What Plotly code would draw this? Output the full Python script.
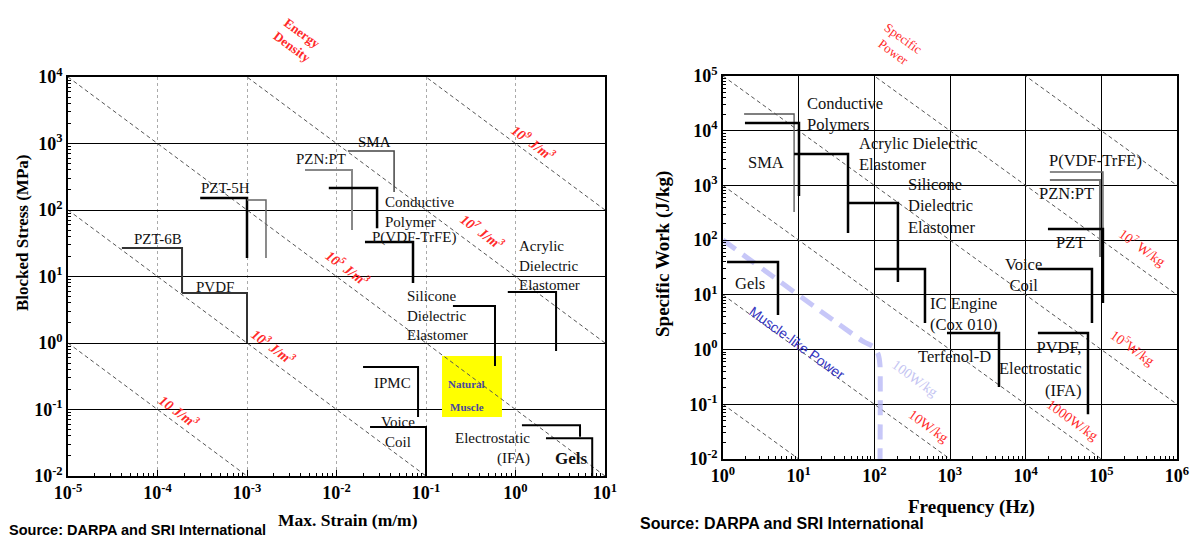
import numpy as np
import plotly.graph_objects as go

# ---------------- LEFT CHART: Max. Strain (m/m) vs Blocked Stress (MPa) ----------------
left_names = ["PZT-6B", "PVDF", "PZT-5H", "PZT-5H b", "PZN:PT", "SMA", "Conductive Polymer",
              "P(VDF-TrFE)", "Acrylic Dielectric Elastomer", "Silicone Dielectric Elastomer",
              "IPMC", "Voice Coil", "Electrostatic (IFA)", "Gels"]
left_strain_start = [4.0e-5, 1.88e-4, 3.0e-4, 1.0e-3, 4.45e-3, 0.0134, 8.2e-3,
                     0.0208, 0.82, 0.20, 0.0198, 0.0237, 1.18, 2.19]
left_strain_max = [1.88e-4, 1.0e-3, 1.0e-3, 1.63e-3, 0.0149, 0.044, 0.0284,
                   0.0716, 2.84, 0.59, 0.0815, 0.10, 5.26, 7.2]
left_stress_max = [26.8, 5.65, 151, 141, 400, 771, 214, 33, 5.85, 3.6, 0.435, 0.0546, 0.058, 0.037]
left_stress_min = [5.65, 1.0, 19, 19, 50, 186, 53, 8.0, 0.76, 0.45, 0.077, 0.01, 0.039, 0.0095]

natural_muscle_strain = [0.151, 0.706]
natural_muscle_stress = [0.077, 0.64]

# energy density lines (stress[MPa] * strain = const), labels in J/m^3
energy_density_products = [1e-5, 1e-3, 1e-1, 1e1, 1e3]

# ---------------- RIGHT CHART: Frequency (Hz) vs Specific Work (J/kg) ----------------
right_names = ["SMA", "Conductive Polymers", "Acrylic Dielectric Elastomer",
               "Silicone Dielectric Elastomer", "IC Engine (Cox 010)", "Terfenol-D",
               "Voice Coil", "PVDF, Electrostatic (IFA)", "P(VDF-TrFE)", "PZN:PT", "PZT", "Gels"]
right_freq_start = [1.9, 1.95, 8.7, 43.5, 102, 912, 14500, 14500, 20900, 20900, 19700, 1.13]
right_freq_max = [8.7, 10.1, 44.9, 205, 467, 4440, 75200, 66600, 105000, 96000, 105000, 5.33]
right_work_max = [20200, 13800, 3750, 476, 29.6, 2.0, 29.6, 2.0, 1760, 1255, 160, 39.8]
right_work_min = [327, 640, 135, 17.1, 3.05, 0.206, 3.05, 0.066, 7.1, 49, 7.1, 4.3]

# specific power lines (work * frequency = const), W/kg
specific_power_products = [1e-1, 1e1, 1e3, 1e5, 1e7, 1e9]

# muscle-like power boundary
muscle_freq = [1.0, 70, 100, 113, 119, 119]
muscle_work = [100, 1.43, 1.1, 0.8, 0.5, 0.01]

# ---------------- styles (kept separate from data) ----------------
left_styles = [("#333333", 2), ("#333333", 2), ("black", 2.5), ("#666666", 1.5), ("#888888", 2),
               ("#444444", 1.5), ("black", 2.5), ("black", 2.5), ("black", 2), ("black", 2),
               ("black", 2), ("black", 2), ("black", 2), ("black", 2)]
right_styles = [("#555555", 1.3), ("black", 2.5), ("black", 2.5), ("black", 2.5), ("black", 2.5),
                ("black", 2.5), ("black", 2.5), ("black", 2.5), ("#666666", 1.5), ("#777777", 2),
                ("black", 2.5), ("black", 2.5)]

SERIF = "Liberation Serif"
fig = go.Figure()

# Natural muscle box
fig.add_trace(go.Scatter(
    x=[natural_muscle_strain[0], natural_muscle_strain[1], natural_muscle_strain[1],
       natural_muscle_strain[0], natural_muscle_strain[0]],
    y=[natural_muscle_stress[0], natural_muscle_stress[0], natural_muscle_stress[1],
       natural_muscle_stress[1], natural_muscle_stress[0]],
    fill="toself", fillcolor="#ffff00", line=dict(width=0), mode="lines",
    hoverinfo="skip", xaxis="x", yaxis="y"))

# energy density dashed lines
lx_range = np.array([1e-5, 1e1])
for p in energy_density_products:
    fig.add_trace(go.Scatter(x=lx_range, y=p / lx_range, mode="lines",
                             line=dict(color="#555555", width=1, dash="4px,3px"),
                             hoverinfo="skip", xaxis="x", yaxis="y"))

# left material steps
for i, n in enumerate(left_names):
    c, w = left_styles[i]
    fig.add_trace(go.Scatter(
        x=[left_strain_start[i], left_strain_max[i], left_strain_max[i]],
        y=[left_stress_max[i], left_stress_max[i], left_stress_min[i]],
        mode="lines", line=dict(color=c, width=w), name=n, xaxis="x", yaxis="y"))

# specific power dashed lines
rx_range = np.array([1e0, 1e6])
for p in specific_power_products:
    fig.add_trace(go.Scatter(x=rx_range, y=p / rx_range, mode="lines",
                             line=dict(color="#555555", width=1, dash="4px,3px"),
                             hoverinfo="skip", xaxis="x2", yaxis="y2"))

# muscle-like power boundary
fig.add_trace(go.Scatter(x=muscle_freq, y=muscle_work, mode="lines",
                         line=dict(color="rgba(175,175,245,0.7)", width=5, dash="15px,9px",
                                   shape="spline", smoothing=0.4),
                         hoverinfo="skip", xaxis="x2", yaxis="y2"))

# right material steps
for i, n in enumerate(right_names):
    c, w = right_styles[i]
    fig.add_trace(go.Scatter(
        x=[right_freq_start[i], right_freq_max[i], right_freq_max[i]],
        y=[right_work_max[i], right_work_max[i], right_work_min[i]],
        mode="lines", line=dict(color=c, width=w), name=n, xaxis="x2", yaxis="y2"))


def sup(n):
    return "10<sup>%d</sup>" % n


def minor_vals(lo, hi):
    return [k * 10.0 ** e for e in range(lo, hi) for k in range(2, 10)]


def make_axis(lo, hi, domain, anchor, gridcolor, griddash):
    return dict(type="log", range=[lo, hi], domain=domain, anchor=anchor, automargin=False,
                tickmode="array", tickvals=[10.0 ** e for e in range(lo, hi + 1)],
                ticktext=[sup(e) for e in range(lo, hi + 1)],
                ticks="inside", ticklen=6, tickcolor="black",
                showline=True, linecolor="black", linewidth=1.5, mirror=True,
                showgrid=True, gridcolor=gridcolor, griddash=griddash, gridwidth=1,
                zeroline=False,
                tickfont=dict(family=SERIF, size=18, color="black", weight="bold"),
                minor=dict(tickmode="array", tickvals=minor_vals(lo, hi), ticks="inside",
                           ticklen=3, tickcolor="black", showgrid=False))


W, H = 1195, 540
fig.update_layout(
    width=W, height=H, margin=dict(l=0, r=0, t=0, b=0, autoexpand=False),
    paper_bgcolor="white", plot_bgcolor="white", showlegend=False,
    xaxis=make_axis(-5, 1, [68 / W, 605 / W], "y", "#aaaaaa", "dot"),
    yaxis=make_axis(-2, 4, [1 - 476 / H, 1 - 77 / H], "x", "black", "solid"),
    xaxis2=make_axis(0, 6, [723 / W, 1177 / W], "y2", "black", "solid"),
    yaxis2=make_axis(-2, 5, [1 - 459 / H, 1 - 76 / H], "x2", "black", "solid"),
)

ann = []


def label(text, x, y, ref, size=15, align="center", xanchor="center", color="#111111",
          angle=0, weight="normal", style="normal", family=SERIF):
    xr, yr = ref
    ann.append(dict(text=text, x=x, y=y, xref=xr, yref=yr, showarrow=False,
                    xanchor=xanchor, yanchor="middle", align=align, textangle=angle,
                    font=dict(family=family, size=size, color=color, weight=weight, style=style)))


L = ("x", "y")
R = ("x2", "y2")
# left labels (positions in log10 axis units)
label("PZT-6B", -3.994, 1.564, L)
label("PZT-5H", -3.235, 2.331, L)
label("PVDF", -3.358, 0.842, L)
label("SMA", -1.570, 3.023, L)
label("PZN:PT", -2.173, 2.767, L)
label("Conductive<br>Polymer", -1.480, 1.970, L, align="left", xanchor="left")
label("P(VDF-TrFE)", -1.134, 1.594, L)
label("Acrylic<br>Dielectric<br>Elastomer", 0.017, 1.173, L, align="left", xanchor="left")
label("Silicone<br>Dielectric<br>Elastomer", -1.235, 0.421, L, align="left", xanchor="left")
label("IPMC", -1.369, -0.602, L)
label("Voice<br>Coil", -1.313, -1.338, L)
label("Electrostatic<br>(IFA)", 0.184, -1.579, L, align="right", xanchor="right")
label("Gels", 0.620, -1.744, L, size=17, weight="bold")
label("Natural", -0.542, -0.617, L, size=11, color="#4848a0", weight="bold")
label("Muscle", -0.542, -0.962, L, size=11, color="#4848a0", weight="bold")

RED = "#ff2a2a"
la = 36.6
label("10<sup>9</sup> J/m<sup>3</sup>", 0.196, 3.023, L, size=14, color=RED, angle=la, weight="bold", style="italic")
label("10<sup>7</sup> J/m<sup>3</sup>", -0.374, 1.684, L, size=14, color=RED, angle=la, weight="bold", style="italic")
label("10<sup>5</sup> J/m<sup>3</sup>", -1.872, 1.128, L, size=14, color=RED, angle=la, weight="bold", style="italic")
label("10<sup>3</sup> J/m<sup>3</sup>", -2.709, -0.045, L, size=14, color=RED, angle=la, weight="bold", style="italic")
label("10 J/m<sup>3</sup>", -3.760, -1.023, L, size=14, color=RED, angle=la, weight="bold", style="italic")

# right labels
RS = 16.5
label("Conductive<br>Polymers", 1.084, 4.305, R, size=RS, align="left", xanchor="left")
label("SMA", 0.568, 3.428, R, size=RS)
label("Acrylic Dielectric<br>Elastomer", 1.771, 3.574, R, size=RS, align="left", xanchor="left")
label("Silicone<br>Dielectric<br>Elastomer", 2.418, 2.623, R, size=RS, align="left", xanchor="left")
label("P(VDF-TrFE)", 4.929, 3.464, R, size=RS)
label("PZN:PT", 4.546, 2.861, R, size=RS)
label("PZT", 4.586, 1.965, R, size=RS)
label("Voice<br>Coil", 3.978, 1.362, R, size=RS)
label("IC Engine<br>(Cox 010)", 3.172, 0.649, R, size=RS)
label("Terfenol-D", 3.053, -0.119, R, size=RS)
label("PVDF,<br>Electrostatic<br>(IFA)", 4.757, -0.356, R, size=RS, align="right", xanchor="right")
label("Gels", 0.357, 1.216, R, size=RS)

ra = 35.9
label("10<sup>7</sup> W/kg", 5.550, 1.874, R, size=14, color=RED, angle=ra)
label("10<sup>5</sup>W/kg", 5.418, 0.046, R, size=14, color=RED, angle=ra)
label("1000W/kg", 4.625, -1.289, R, size=14, color=RED, angle=ra)
label("10W/kg", 2.722, -1.399, R, size=14, color=RED, angle=ra)
label("100W/kg", 2.537, -0.521, R, size=14, color="#c4c4f2", angle=ra)
label("Muscle-like Power", 0.978, 0.119, R, size=14, color="#3535c0", angle=ra,
      family="Liberation Sans")

P = ("paper", "paper")
label("Energy<br>Density", 297 / W, 1 - 40 / H, P, size=13, color=RED, angle=36, weight="bold")
label("Specific<br>Power", 898 / W, 1 - 45 / H, P, size=13, color=RED, angle=36)

# axis titles
label("Max. Strain (m/m)", 348 / W, 1 - 520 / H, P, size=17.5, color="black", weight="bold")
label("Blocked Stress (MPa)", 22 / W, 1 - 233 / H, P, size=17, color="black", weight="bold", angle=-90)
label("Frequency (Hz)", 971 / W, 1 - 507 / H, P, size=19, color="black", weight="bold")
label("Specific Work (J/kg)", 663 / W, 1 - 254 / H, P, size=19, color="black", weight="bold", angle=-90)

# source
label("Source: DARPA and SRI International", 7 / W, 1 - 530 / H, P, size=14.5, color="black",
      xanchor="left", align="left", family="Liberation Sans", weight="bold")
label("Source: DARPA and SRI International", 638 / W, 1 - 523 / H, P, size=16, color="black",
      xanchor="left", align="left", family="Liberation Sans", weight="bold")

fig.update_layout(annotations=ann)
fig.write_html("out.html", config={"displayModeBar": False},
               post_script="document.body.style.margin='0';document.body.style.overflow='hidden';")
